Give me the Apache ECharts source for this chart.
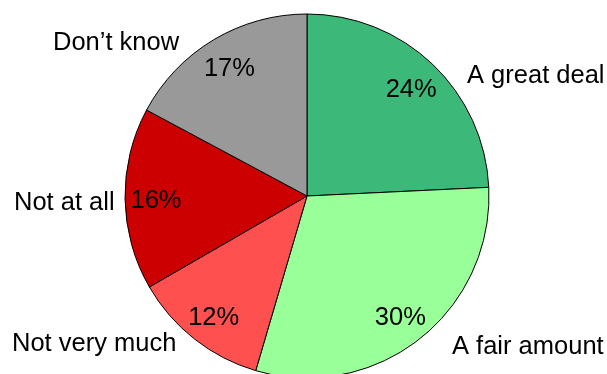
<!DOCTYPE html>
<html>
<head>
<meta charset="utf-8">
<script src="https://cdn.jsdelivr.net/npm/echarts@6/dist/echarts.min.js"></script>
<style>html,body{margin:0;padding:0;background:#fff;}#c{width:607px;height:374px;}</style>
</head>
<body>
<div id="c"></div>
<script>
const categories = ['A great deal', 'A fair amount', 'Not very much', 'Not at all', 'Don\u2019t know'];
const values = [24, 30, 12, 16, 17];
const colors = ['#3CB878', '#99FF99', '#FF5050', '#CC0000', '#999999'];

// label placement (left x, middle y) for category names
const namePos = [[467, 76], [452, 347], [12, 344], [14, 203], [53, 43]];

const center = [307, 196];
const R = 182;
const font = 'Liberation Sans, Arial, sans-serif';

const chart = echarts.init(document.getElementById('c'), null, {renderer: 'canvas'});
chart.setOption({
  animation: false,
  backgroundColor: '#fff',
  series: [
    {
      type: 'pie',
      center: center,
      radius: [0, R],
      startAngle: 90,
      clockwise: true,
      silent: true,
      data: categories.map((n, i) => ({name: n, value: values[i], itemStyle: {color: colors[i]}})),
      itemStyle: {borderColor: '#000', borderWidth: 1},
      label: {show: true, position: 'outside', formatter: '{b}', color: '#000', fontFamily: font, fontSize: 25.5, overflow: 'none', width: 300},
      labelLine: {show: false},
      labelLayout: function (p) {
        const pos = namePos[p.dataIndex];
        return {x: pos[0], y: pos[1], align: 'left', verticalAlign: 'middle'};
      }
    },
    {
      type: 'pie',
      center: center,
      radius: [116, 180],
      startAngle: 90,
      clockwise: true,
      silent: true,
      data: categories.map((n, i) => ({name: n, value: values[i]})),
      itemStyle: {color: 'transparent', borderWidth: 0},
      label: {show: true, position: 'inside', formatter: p => p.value + '%', color: '#000', fontFamily: font, fontSize: 25.5, overflow: 'none', offset: [0, 3]},
      labelLine: {show: false}
    }
  ]
});
</script>
</body>
</html>
